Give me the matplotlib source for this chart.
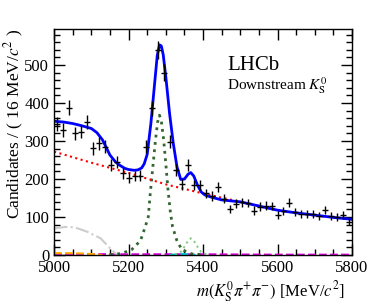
import numpy as np
import matplotlib
matplotlib.use('Agg')
import matplotlib.pyplot as plt
from matplotlib.ticker import MultipleLocator

plt.rcParams['font.family'] = ['Liberation Serif', 'DejaVu Serif']
plt.rcParams['mathtext.fontset'] = 'stix'

# data: 50 bins of 16 MeV from 5000 to 5800
bin_lo = 5000
bin_w = 16
counts = [345, 329, 388, 320, 325, 351, 281, 294, 285, 237,
          246, 215, 204, 208, 209, 285, 386, 540, 480, 298,
          224, 186, 237, 184, 184, 162, 156, 180, 148, 121,
          135, 139, 137, 117, 127, 130, 129, 105, 115, 138,
          113, 108, 108, 109, 102, 119, 102, 100, 105, 88]

# total fit (blue)
tot_m = [5000, 5025, 5050, 5075, 5100, 5115, 5130, 5150, 5165, 5175, 5190, 5200,
         5215, 5225, 5235, 5242, 5250, 5260, 5270, 5277, 5283, 5288, 5293, 5300,
         5310, 5320, 5330, 5340, 5350, 5360, 5367, 5375, 5385, 5395, 5405, 5420,
         5450, 5500, 5550, 5600, 5650, 5700, 5750, 5800]
tot_v = [352, 350, 346, 340, 333, 322, 303, 263, 245, 237, 228, 225,
         223, 224, 229, 240, 265, 347, 452, 525, 553, 550, 527, 469,
         373, 294, 232, 199, 200, 213, 217, 208, 184, 166, 158, 153,
         145, 140, 129, 118, 111, 105, 99, 94]

# combinatorial background (red)
comb_m = [5000, 5100, 5200, 5300, 5400, 5500, 5600, 5700, 5800]
comb_v = [272, 243, 216, 186, 162, 140, 118, 104, 94]

# B0 signal (dark green)
b0_m = [5150, 5180, 5208, 5232, 5245, 5253, 5258, 5265, 5272, 5278, 5283, 5288,
        5294, 5300, 5306, 5312, 5318, 5329, 5343, 5370, 5400]
b0_v = [1, 4, 14, 38, 75, 101, 160, 230, 300, 350, 368, 352,
        305, 240, 170, 115, 75, 40, 14, 3, 1]

# Bs signal (light green)
bs_m = [5325, 5340, 5350, 5360, 5367, 5375, 5385, 5395, 5410]
bs_v = [1, 8, 22, 38, 44, 38, 22, 8, 1]

# partially reconstructed background (grey)
prec_m = [5000, 5030, 5055, 5090, 5125, 5150, 5165, 5175]
prec_v = [70, 74, 73, 61, 44, 18, 4, 0]

# small components near zero
small1_m = [5000, 5040, 5080, 5110, 5130]
small1_v = [5, 5, 4, 2, 0]
small2_m = [5000, 5200, 5400, 5600, 5800]
small2_v = [3, 2, 2, 1, 1]
small3_m = [5310, 5330, 5345, 5360, 5380]
small3_v = [0, 2, 3, 2, 0]

centers = bin_lo + bin_w / 2 + bin_w * np.arange(len(counts))
counts = np.array(counts)

fig = plt.figure(figsize=(3.92, 3.04), dpi=100)
ax = fig.add_axes([0.138, 0.161, 0.760, 0.744])

ax.plot(small2_m, small2_v, color='#dd00dd', ls='--', lw=1.5)
ax.plot(small1_m, small1_v, color='#ffaa00', ls='--', lw=1.5)
ax.plot(small3_m, small3_v, color='#00cccc', ls='--', lw=1.5)
ax.plot(prec_m, prec_v, color='#cccccc', ls='-.', lw=1.5)
ax.plot(bs_m, bs_v, color='#88cc88', ls=':', lw=1.5)
ax.plot(b0_m, b0_v, color='#336633', ls=':', lw=2)
ax.plot(comb_m, comb_v, color='red', ls=':', lw=1.5)
ax.plot(tot_m, tot_v, color='blue', lw=2)
ax.errorbar(centers, counts, xerr=bin_w / 2, yerr=np.sqrt(counts),
            fmt='none', ecolor='black', elinewidth=1)

ax.set_xlim(5000, 5800)
ax.set_ylim(0, 595)
ax.xaxis.set_major_locator(MultipleLocator(200))
ax.xaxis.set_minor_locator(MultipleLocator(50))
ax.yaxis.set_major_locator(MultipleLocator(100))
ax.yaxis.set_minor_locator(MultipleLocator(20))
ax.tick_params(which='both', direction='in', top=True, right=True, labelsize=12, width=1)
ax.tick_params(which='major', length=8)
ax.tick_params(which='minor', length=4)
for s in ax.spines.values():
    s.set_linewidth(1)

ax.set_xlabel(r'$m(K^0_{\rm S}\pi^{+}\pi^{-})$ [MeV/$c^2$]', fontsize=12, loc='right')
ax.set_ylabel(r'Candidates / ( 16 MeV/$c^2$ )', fontsize=12.5, loc='top')
ax.xaxis.set_label_coords(0.977, -0.105)
ax.yaxis.set_label_coords(-0.095, 1.0)

ax.text(0.58, 0.82, 'LHCb', transform=ax.transAxes, fontsize=15)
ax.text(0.58, 0.73, r'Downstream $K^0_{\rm S}$', transform=ax.transAxes, fontsize=11)

fig.savefig('out.png', dpi=100)
